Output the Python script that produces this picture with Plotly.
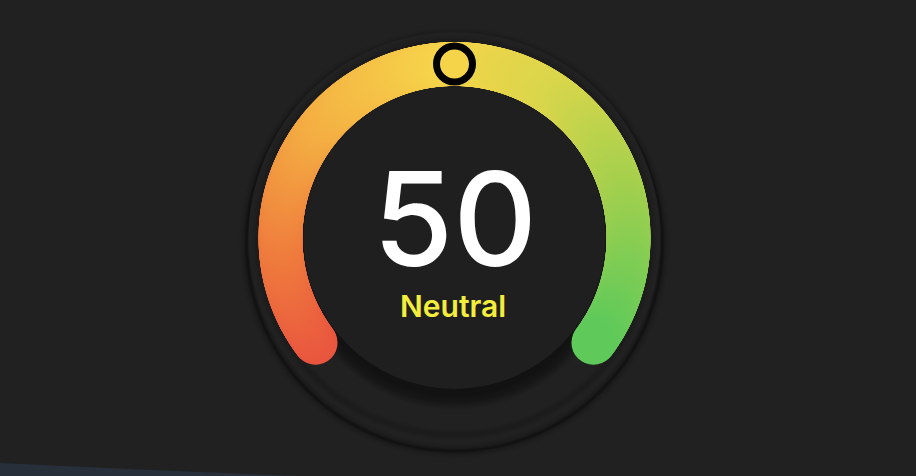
import numpy as np
import plotly.graph_objects as go

# ── data ──────────────────────────────────────────────────────────────────────
VALUE = 50
VAL_MIN, VAL_MAX = 0, 100
VALUE_LABEL = "Neutral"
STOP_POS = [0.0, 0.15, 0.32, 0.5, 0.65, 0.8, 1.0]
STOP_COLORS = ["#e9553f", "#ef7d3d", "#f4b043", "#f6d44a", "#d9d64b", "#a7d04d", "#5fca5a"]

# ── geometry (pixels, y grows downward) ──────────────────────────────────────
W, H = 916, 476
CX, CY = 454.5, 238
R_MID = 174
THICK = 44
A_START, A_END = 217, -37      # degrees, counter-clockwise from +x
BG = "#212121"

colorscale = [[p, c] for p, c in zip(STOP_POS, STOP_COLORS)]


def polar(r, deg):
    a = np.radians(deg)
    return CX + r * np.cos(a), CY - r * np.sin(a)


def circle(r, dx=0, dy=0, **kw):
    return dict(type="circle", xref="x", yref="y", layer="below",
                x0=CX + dx - r, x1=CX + dx + r, y0=CY + dy - r, y1=CY + dy + r, **kw)


fig = go.Figure()
shapes = []

# faint bluish tint in the lower-left corner
shapes.append(dict(type="path", xref="x", yref="y", layer="below",
                   path="M 0 463 Q 140 470 300 476 L 0 476 Z",
                   fillcolor="rgba(45,60,80,0.55)", line=dict(width=0)))

# outer disk rim shadow
for w, op in [(14, 0.04), (9, 0.07), (5, 0.11), (2.5, 0.22)]:
    shapes.append(circle(208, dy=5, line=dict(color=f"rgba(0,0,0,{op})", width=w)))
shapes.append(circle(206, fillcolor=BG, line=dict(width=0)))

# soft halo around the arc band
for w, op in [(10, 0.05), (5, 0.08)]:
    shapes.append(circle(R_MID + THICK / 2 + 1, line=dict(color=f"rgba(0,0,0,{op})", width=w)))

# inner disk drop shadow
for k in range(10):
    shapes.append(circle(148 + 1.5 * k, dy=10, fillcolor="rgba(0,0,0,0.045)", line=dict(width=0)))
shapes.append(circle(151, fillcolor="#1f1f1f", line=dict(width=0)))

# ── gradient arc (dense round markers -> smooth band with round caps) ─────────
t = np.linspace(0, 1, 700)
ang = A_START + (A_END - A_START) * t
ax, ay = polar(R_MID, ang)
fig.add_trace(go.Scatter(
    x=ax, y=ay, mode="markers",
    marker=dict(size=THICK, color=t, colorscale=colorscale, cmin=0, cmax=1,
                line=dict(width=0)),
    hoverinfo="skip", showlegend=False,
))

# ── pointer ───────────────────────────────────────────────────────────────────
frac = (VALUE - VAL_MIN) / (VAL_MAX - VAL_MIN)
px, py = polar(R_MID, A_START + (A_END - A_START) * frac)
fig.add_trace(go.Scatter(
    x=[px], y=[py], mode="markers",
    marker=dict(size=36, color=[frac], colorscale=colorscale, cmin=0, cmax=1,
                line=dict(color="#000000", width=7)),
    hovertemplate=f"{VALUE} – {VALUE_LABEL}<extra></extra>", showlegend=False,
))

# ── centre texts ──────────────────────────────────────────────────────────────
fig.add_annotation(x=CX, y=CY - 20, xref="x", yref="y", text=str(VALUE),
                   showarrow=False, xanchor="center", yanchor="middle",
                   font=dict(family="Inter, Liberation Sans, Arial", size=130,
                             color="#ffffff", weight=500))
fig.add_annotation(x=CX - 2, y=CY + 68, xref="x", yref="y", text=VALUE_LABEL,
                   showarrow=False, xanchor="center", yanchor="middle",
                   font=dict(family="Inter, Liberation Sans, Arial", size=30,
                             color="#f3ee3c", weight=600))

fig.update_layout(
    width=W, height=H,
    margin=dict(l=0, r=0, t=0, b=0),
    paper_bgcolor=BG, plot_bgcolor=BG,
    shapes=shapes,
    xaxis=dict(range=[0, W], visible=False, fixedrange=True),
    yaxis=dict(range=[H, 0], visible=False, fixedrange=True),
    showlegend=False,
)

fig.write_html("out.html", config={"displayModeBar": False},
               post_script="document.body.style.margin='0';"
                           "document.body.style.background='#212121';")
